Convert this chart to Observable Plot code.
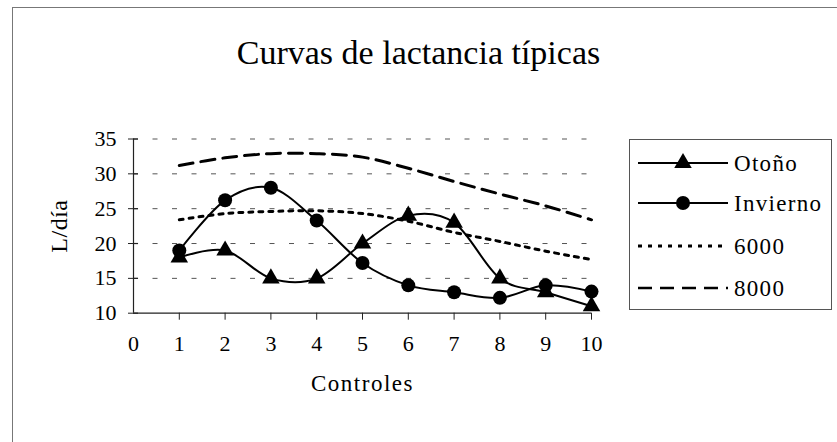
<!DOCTYPE html>
<html>
<head>
<meta charset="utf-8">
<script src="https://cdn.jsdelivr.net/npm/d3@7"></script>
<script src="https://cdn.jsdelivr.net/npm/@observablehq/plot@0.6"></script>
<style>
  html, body { margin: 0; padding: 0; background: #fff; }
  #chart { position: relative; width: 837px; height: 442px; overflow: hidden; background: #fff;
           font-family: "Liberation Serif", "DejaVu Serif", serif; color: #000; }
  #frame { position: absolute; left: 12px; top: 7px; width: 900px; height: 500px;
           border-top: 1.5px solid #777; border-left: 1.5px solid #777; }
  #title { position: absolute; left: 0; width: 837px; top: 36px; text-align: center;
           font-size: 34px; line-height: 1; }
  #plot { position: absolute; left: 0; top: 0; }
  #plot svg, #plot svg text { font-family: "Liberation Serif", "DejaVu Serif", serif !important; }
  #legend { position: absolute; left: 629px; top: 139px; width: 203px; height: 171px;
            border: 1.2px solid #555; box-sizing: border-box; }
  .row { position: absolute; left: 8px; height: 30px; display: flex; align-items: center; }
  .row span { font-family: "Liberation Serif", serif; font-size: 23px; letter-spacing: 1.3px;
              margin-left: 6px; line-height: 1; }
</style>
</head>
<body>
<div id="chart">
  <div id="frame"></div>
  <div id="plot"></div>
  <div id="title">Curvas de lactancia típicas</div>
  <div id="legend"></div>
</div>
<script>
// ---- data ----
const controles = [1, 2, 3, 4, 5, 6, 7, 8, 9, 10];
const otono    = [18, 19, 15, 15, 20, 24, 23, 15, 13, 11];
const invierno = [19, 26.2, 28, 23.3, 17.2, 14, 13, 12.2, 14, 13.1];
const p6000    = [23.4, 24.3, 24.6, 24.7, 24.3, 23.2, 21.6, 20.3, 18.9, 17.7];
const p8000    = [31.2, 32.3, 32.9, 32.9, 32.4, 30.8, 28.9, 27.1, 25.4, 23.4];
const seriesNames = ["Otoño", "Invierno", "6000", "8000"];
const xTicks = [0, 1, 2, 3, 4, 5, 6, 7, 8, 9, 10];
const yTicks = [10, 15, 20, 25, 30, 35];
const gridTicks = [15, 20, 25, 30, 35];

const rows = (vals) => controles.map((c, i) => ({x: c, y: vals[i]}));
const dOt = rows(otono), dIn = rows(invierno), d6 = rows(p6000), d8 = rows(p8000);

const smooth = {curve: "cardinal", tension: 0};

const plot = Plot.plot({
  width: 837,
  height: 442,
  marginLeft: 133,
  marginRight: 246,
  marginTop: 138.5,
  marginBottom: 129.3,
  style: {fontFamily: "'Liberation Serif', serif", fontSize: "22px", background: "transparent", color: "#000"},
  x: {domain: [0, 10]},
  y: {domain: [10, 35]},
  marks: [
    Plot.ruleY(gridTicks, {x1: 0, x2: 10, stroke: "#555", strokeWidth: 1, strokeDasharray: "5,14.5"}),
    Plot.ruleX([0], {y1: 10, y2: 35, stroke: "#222", strokeWidth: 1.2}),
    Plot.ruleY([10], {x1: 0, x2: 10, stroke: "#222", strokeWidth: 1.2}),
    Plot.ruleY(yTicks, {x1: 0, x2: 0.11, stroke: "#222", strokeWidth: 1.2}),
    Plot.axisY({ticks: yTicks, tickSize: 5, tickPadding: 12, fontSize: 22, label: "L/día",
                labelAnchor: "center", labelOffset: 84, labelArrow: "none", stroke: "#222"}),
    Plot.axisX({ticks: controles, tickSize: 7, text: null, label: null, stroke: "#222"}),
    Plot.axisX({ticks: xTicks, tickSize: 0, tickPadding: 22, fontSize: 22, tickFormat: d => String(d),
                label: "Controles", labelAnchor: "center", labelOffset: 78, labelArrow: "none"}),
    Plot.line(d8, {x: "x", y: "y", stroke: "#000", strokeWidth: 3, strokeDasharray: "14,8", ...smooth}),
    Plot.line(d6, {x: "x", y: "y", stroke: "#000", strokeWidth: 3, strokeDasharray: "4,6", ...smooth}),
    Plot.line(dOt, {x: "x", y: "y", stroke: "#000", strokeWidth: 2, ...smooth}),
    Plot.line(dIn, {x: "x", y: "y", stroke: "#000", strokeWidth: 2, ...smooth}),
    Plot.dot(dOt, {x: "x", y: "y", symbol: "triangle", r: 6.5, fill: "#000", stroke: "none"}),
    Plot.dot(dIn, {x: "x", y: "y", symbol: "circle", r: 7, fill: "#000", stroke: "none"})
  ]
});
d3.select(plot).selectAll("[aria-label='x-axis label'] text")
  .style("letter-spacing", "1.5px").style("font-size", "23px");
d3.select(plot).selectAll("[aria-label='y-axis label'] text")
  .style("letter-spacing", "0.5px").style("font-size", "24px");
document.getElementById("plot").appendChild(plot);

// ---- legend ----
const legend = d3.select("#legend");
const styles = [
  {dash: null, w: 2, sym: d3.symbolTriangle, r: 6.5},
  {dash: null, w: 2, sym: d3.symbolCircle, r: 7},
  {dash: "4,6", w: 3, sym: null},
  {dash: "14,8", w: 2.5, sym: null}
];
const rowTops = [8, 48, 91, 133];
seriesNames.forEach((name, i) => {
  const row = legend.append("div").attr("class", "row").style("top", rowTops[i] + "px");
  const svg = row.append("svg").attr("width", 90).attr("height", 30);
  svg.append("line").attr("x1", 0).attr("x2", 90).attr("y1", 15).attr("y2", 15)
    .attr("stroke", "#000").attr("stroke-width", styles[i].w)
    .attr("stroke-dasharray", styles[i].dash);
  if (styles[i].sym) {
    svg.append("path").attr("transform", "translate(45,15)")
      .attr("d", d3.symbol(styles[i].sym, Math.PI * styles[i].r * styles[i].r)())
      .attr("fill", "#000");
  }
  row.append("span").text(name);
});
</script>
</body>
</html>
